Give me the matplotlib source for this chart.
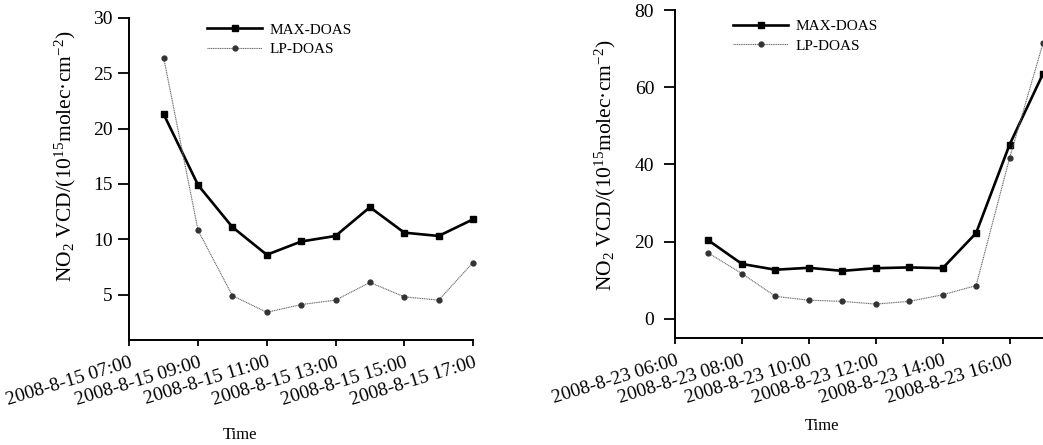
import pandas as pd
import matplotlib
matplotlib.use("Agg")
import matplotlib.pyplot as plt

plt.rcParams["font.family"] = ["Liberation Serif", "DejaVu Serif"]
plt.rcParams["mathtext.fontset"] = "custom"
plt.rcParams["mathtext.rm"] = "Liberation Serif"
plt.rcParams["mathtext.default"] = "rm"

# --- 2008-08-15 ---
TIMES_15 = ["2008-08-15 08:00", "2008-08-15 09:00", "2008-08-15 10:00", "2008-08-15 11:00",
            "2008-08-15 12:00", "2008-08-15 13:00", "2008-08-15 14:00", "2008-08-15 15:00",
            "2008-08-15 16:00", "2008-08-15 17:00"]
MAX_15 = [21.3, 14.9, 11.1, 8.6, 9.8, 10.3, 12.9, 10.6, 10.3, 11.8]
LP_15  = [26.4, 10.8, 4.9, 3.4, 4.1, 4.5, 6.1, 4.8, 4.5, 7.9]
TICKS_15  = ["2008-08-15 07:00", "2008-08-15 09:00", "2008-08-15 11:00",
             "2008-08-15 13:00", "2008-08-15 15:00", "2008-08-15 17:00"]
LABELS_15 = ["2008-8-15 07:00", "2008-8-15 09:00", "2008-8-15 11:00",
             "2008-8-15 13:00", "2008-8-15 15:00", "2008-8-15 17:00"]

# --- 2008-08-23 ---
TIMES_23 = ["2008-08-23 07:00", "2008-08-23 08:00", "2008-08-23 09:00", "2008-08-23 10:00",
            "2008-08-23 11:00", "2008-08-23 12:00", "2008-08-23 13:00", "2008-08-23 14:00",
            "2008-08-23 15:00", "2008-08-23 16:00", "2008-08-23 17:00"]
MAX_23 = [20.3, 14.2, 12.7, 13.2, 12.4, 13.1, 13.3, 13.1, 22.2, 45.1, 63.5]
LP_23  = [17.0, 11.7, 5.8, 4.8, 4.5, 3.8, 4.5, 6.2, 8.6, 41.6, 71.4]
TICKS_23  = ["2008-08-23 06:00", "2008-08-23 08:00", "2008-08-23 10:00",
             "2008-08-23 12:00", "2008-08-23 14:00", "2008-08-23 16:00"]
LABELS_23 = ["2008-8-23 06:00", "2008-8-23 08:00", "2008-8-23 10:00",
             "2008-8-23 12:00", "2008-8-23 14:00", "2008-8-23 16:00"]

YLABEL = "NO$_2$ VCD/(10$^{15}$molec·cm$^{-2}$)"


def draw(ax, times, max_vals, lp_vals, ticks, labels, xlim, ylim, yticks,
         leg_anchor, xlab_xy, ylab_xy):
    t = pd.to_datetime(times)
    ax.plot(t, max_vals, color="black", lw=1.9, marker="s", ms=4,
            label="MAX-DOAS", clip_on=False)
    ax.plot(t, lp_vals, color="#666666", lw=0.8, ls=(0, (1, 0.6)), marker="o",
            ms=3.5, mfc="#333333", mec="#333333", label="LP-DOAS", clip_on=False)

    ax.set_xlim(pd.to_datetime(xlim[0]), pd.to_datetime(xlim[1]))
    ax.set_ylim(*ylim)
    ax.set_yticks(yticks)
    ax.set_xticks(pd.to_datetime(ticks))
    ax.set_xticklabels(labels, rotation=17, ha="right", va="top",
                       rotation_mode="anchor", fontsize=14)

    for s in ["top", "right"]:
        ax.spines[s].set_visible(False)
    for s in ["left", "bottom"]:
        ax.spines[s].set_linewidth(1.4)
    ax.tick_params(axis="y", direction="out", length=8, width=1.3, pad=4, labelsize=14)
    ax.tick_params(axis="x", direction="out", length=4, width=1.3, pad=6)

    ax.set_ylabel(YLABEL, fontsize=15.5)
    ax.yaxis.set_label_coords(*ylab_xy)
    ax.set_xlabel("Time", fontsize=12)
    ax.xaxis.set_label_coords(*xlab_xy)

    ax.legend(loc="upper left", bbox_to_anchor=leg_anchor, frameon=False,
              fontsize=11, handlelength=3.6, handletextpad=0.5,
              labelspacing=0.4, borderpad=0, borderaxespad=0)


fig = plt.figure(figsize=(10.43, 4.45), dpi=100)

ax1 = fig.add_axes([0.124, 0.236, 0.3295, 0.7236])
draw(ax1, TIMES_15, MAX_15, LP_15, TICKS_15, LABELS_15,
     ("2008-08-15 07:00", "2008-08-15 17:00"), (0.9, 30), [5, 10, 15, 20, 25, 30],
     (0.227, 0.985), (0.323, -0.27), (-0.15, 0.571))

ax2 = fig.add_axes([0.6472, 0.2404, 0.3528, 0.737])
draw(ax2, TIMES_23, MAX_23, LP_23, TICKS_23, LABELS_23,
     ("2008-08-23 06:00", "2008-08-23 17:00"), (-5, 80), [0, 20, 40, 60, 80],
     (0.158, 0.972), (0.40, -0.244), (-0.155, 0.527))
ax2.tick_params(axis="y", pad=7)

fig.savefig("out.png", dpi=100)
